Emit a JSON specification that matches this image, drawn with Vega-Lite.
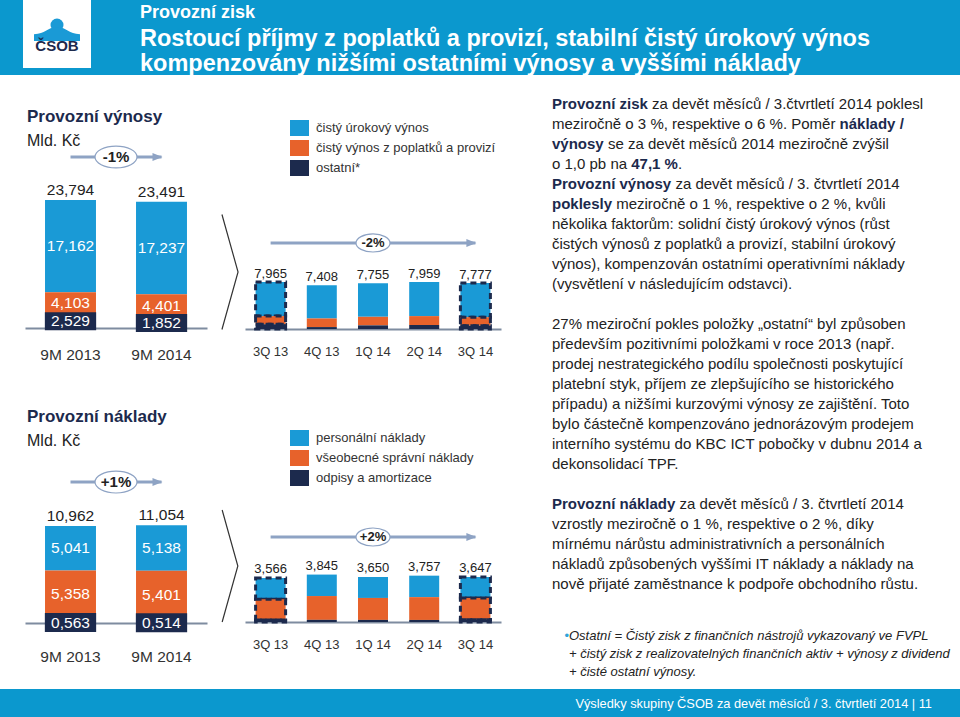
{
"$schema":"https://vega.github.io/schema/vega-lite/v6.json",
"padding":0,
"background":"white",
"bounds":"flush",
"spacing":0,
"columns":3,
"resolve":{"scale":{"color":"independent"},"legend":{"color":"independent"}},
"config":{"view":{"stroke":null},"font":"Liberation Sans","locale":{"number":{"decimal":",","thousands":" ","grouping":[3],"currency":["",""]}},"axis":{"grid":false}},
"datasets":{
"rev9m":[
{"p":"9M 2013","s":"čistý úrokový výnos","o":3,"v":17.162},
{"p":"9M 2013","s":"čistý výnos z poplatků a provizí","o":2,"v":4.103},
{"p":"9M 2013","s":"ostatní*","o":1,"v":2.529},
{"p":"9M 2014","s":"čistý úrokový výnos","o":3,"v":17.237},
{"p":"9M 2014","s":"čistý výnos z poplatků a provizí","o":2,"v":4.401},
{"p":"9M 2014","s":"ostatní*","o":1,"v":1.852}],
"rev9mTot":[{"p":"9M 2013","t":23.794},{"p":"9M 2014","t":23.491}],
"cost9m":[
{"p":"9M 2013","s":"personální náklady","o":3,"v":5.041},
{"p":"9M 2013","s":"všeobecné správní náklady","o":2,"v":5.358},
{"p":"9M 2013","s":"odpisy a amortizace","o":1,"v":0.563},
{"p":"9M 2014","s":"personální náklady","o":3,"v":5.138},
{"p":"9M 2014","s":"všeobecné správní náklady","o":2,"v":5.401},
{"p":"9M 2014","s":"odpisy a amortizace","o":1,"v":0.514}],
"cost9mTot":[{"p":"9M 2013","t":10.962},{"p":"9M 2014","t":11.054}],
"revQ":[
{"q":"3Q 13","s":"čistý úrokový výnos","o":3,"v":5.780},
{"q":"3Q 13","s":"čistý výnos z poplatků a provizí","o":2,"v":1.380},
{"q":"3Q 13","s":"ostatní*","o":1,"v":0.805},
{"q":"4Q 13","s":"čistý úrokový výnos","o":3,"v":5.620},
{"q":"4Q 13","s":"čistý výnos z poplatků a provizí","o":2,"v":1.460},
{"q":"4Q 13","s":"ostatní*","o":1,"v":0.328},
{"q":"1Q 14","s":"čistý úrokový výnos","o":3,"v":5.690},
{"q":"1Q 14","s":"čistý výnos z poplatků a provizí","o":2,"v":1.450},
{"q":"1Q 14","s":"ostatní*","o":1,"v":0.615},
{"q":"2Q 14","s":"čistý úrokový výnos","o":3,"v":5.770},
{"q":"2Q 14","s":"čistý výnos z poplatků a provizí","o":2,"v":1.510},
{"q":"2Q 14","s":"ostatní*","o":1,"v":0.679},
{"q":"3Q 14","s":"čistý úrokový výnos","o":3,"v":5.777},
{"q":"3Q 14","s":"čistý výnos z poplatků a provizí","o":2,"v":1.441},
{"q":"3Q 14","s":"ostatní*","o":1,"v":0.559}],
"revQTot":[{"q":"3Q 13","t":7.965},{"q":"4Q 13","t":7.408},{"q":"1Q 14","t":7.755},{"q":"2Q 14","t":7.959},{"q":"3Q 14","t":7.777}],
"costQ":[
{"q":"3Q 13","s":"personální náklady","o":3,"v":1.720},
{"q":"3Q 13","s":"všeobecné správní náklady","o":2,"v":1.680},
{"q":"3Q 13","s":"odpisy a amortizace","o":1,"v":0.166},
{"q":"4Q 13","s":"personální náklady","o":3,"v":1.740},
{"q":"4Q 13","s":"všeobecné správní náklady","o":2,"v":1.930},
{"q":"4Q 13","s":"odpisy a amortizace","o":1,"v":0.175},
{"q":"1Q 14","s":"personální náklady","o":3,"v":1.700},
{"q":"1Q 14","s":"všeobecné správní náklady","o":2,"v":1.780},
{"q":"1Q 14","s":"odpisy a amortizace","o":1,"v":0.170},
{"q":"2Q 14","s":"personální náklady","o":3,"v":1.740},
{"q":"2Q 14","s":"všeobecné správní náklady","o":2,"v":1.850},
{"q":"2Q 14","s":"odpisy a amortizace","o":1,"v":0.167},
{"q":"3Q 14","s":"personální náklady","o":3,"v":1.698},
{"q":"3Q 14","s":"všeobecné správní náklady","o":2,"v":1.772},
{"q":"3Q 14","s":"odpisy a amortizace","o":1,"v":0.177}],
"costQTot":[{"q":"3Q 13","t":3.566},{"q":"4Q 13","t":3.845},{"q":"1Q 14","t":3.650},{"q":"2Q 14","t":3.757},{"q":"3Q 14","t":3.647}],
"chg":[
{"c":"rev9m","from":"9M 2013","to":"9M 2014","lab":"-1%"},
{"c":"cost9m","from":"9M 2013","to":"9M 2014","lab":"+1%"},
{"c":"revQ","from":"3Q 13","to":"3Q 14","lab":"-2%"},
{"c":"costQ","from":"3Q 13","to":"3Q 14","lab":"+2%"}],
"txt":[
{"line":0,"k":"b","t":"Provozní zisk"},
{"line":0,"k":"c0","t":"za devět měsíců / 3.čtvrtletí 2014 poklesl"},
{"line":1,"k":"r","t":"meziročně o 3 %, respektive o 6 %. Poměr"},
{"line":1,"k":"c1","t":"náklady /"},
{"line":2,"k":"b","t":"výnosy"},
{"line":2,"k":"c2","t":"se za devět měsíců 2014 meziročně zvýšil"},
{"line":3,"k":"r","t":"o 1,0 pb na"},
{"line":3,"k":"c3","t":"47,1 %"},
{"line":3,"k":"c4","t":"."},
{"line":4,"k":"b","t":"Provozní výnosy"},
{"line":4,"k":"c5","t":"za devět měsíců / 3. čtvrtletí 2014"},
{"line":5,"k":"b","t":"poklesly"},
{"line":5,"k":"c6","t":"meziročně o 1 %, respektive o 2 %, kvůli"},
{"line":6,"k":"r","t":"několika faktorům: solidní čistý úrokový výnos (růst"},
{"line":7,"k":"r","t":"čistých výnosů z poplatků a provizí, stabilní úrokový"},
{"line":8,"k":"r","t":"výnos), kompenzován ostatními operativními náklady"},
{"line":9,"k":"r","t":"(vysvětlení v následujícím odstavci)."},
{"line":11,"k":"r","t":"27% meziroční pokles položky „ostatní“ byl způsoben"},
{"line":12,"k":"r","t":"především pozitivními položkami v roce 2013 (např."},
{"line":13,"k":"r","t":"prodej nestrategického podílu společnosti poskytující"},
{"line":14,"k":"r","t":"platební styk, příjem ze zlepšujícího se historického"},
{"line":15,"k":"r","t":"případu) a nižšími kurzovými výnosy ze zajištění. Toto"},
{"line":16,"k":"r","t":"bylo částečně kompenzováno jednorázovým prodejem"},
{"line":17,"k":"r","t":"interního systému do KBC ICT pobočky v dubnu 2014 a"},
{"line":18,"k":"r","t":"dekonsolidací TPF."},
{"line":20,"k":"b","t":"Provozní náklady"},
{"line":20,"k":"c7","t":"za devět měsíců / 3. čtvrtletí 2014"},
{"line":21,"k":"r","t":"vzrostly meziročně o 1 %, respektive o 2 %, díky"},
{"line":22,"k":"r","t":"mírnému nárůstu administrativních a personálních"},
{"line":23,"k":"r","t":"nákladů způsobených vyššími IT náklady a náklady na"},
{"line":24,"k":"r","t":"nově přijaté zaměstnance k podpoře obchodního růstu."}],
"fn":[
{"line":0,"k":"bul","t":"•"},
{"line":0,"k":"f","t":"Ostatní = Čistý zisk z finančních nástrojů vykazovaný ve FVPL"},
{"line":1,"k":"f","t":"+ čistý zisk z realizovatelných finančních aktiv + výnosy z dividend"},
{"line":2,"k":"f","t":"+ čisté ostatní výnosy."}]
},
"concat":[
{
"width":240,"height":75,
"view":{"fill":"#0B98CE","stroke":null},
"data":{"values":[{"logo":"ČSOB"}]},
"layer":[
{"mark":{"type":"point","shape":"square","size":4624,"filled":true,"fill":"white","strokeWidth":0,"opacity":1,"xOffset":-63,"yOffset":-3.5}},
{"mark":{"type":"point","shape":"circle","size":169,"filled":true,"fill":"#1A9AD6","strokeWidth":0,"opacity":1,"xOffset":-63,"yOffset":-12.5}},
{"mark":{"type":"point","shape":"M-1,0.05C-0.5,0.05,-0.45,-0.25,0,-0.25C0.45,-0.25,0.5,0.05,1,0.05L1,0.35L-1,0.35Z","size":2116,"filled":true,"fill":"#1A9AD6","strokeWidth":0,"opacity":1,"xOffset":-63,"yOffset":-4.5}},
{"mark":{"type":"text","fontSize":15,"fontWeight":"bold","color":"#1C2A4D","baseline":"middle","dx":-63,"dy":8},"encoding":{"text":{"field":"logo"}}}
]
},
{
"width":300,"height":75,
"view":{"fill":"#0B98CE","stroke":null},
"data":{"values":[{"t":""}]},
"mark":{"type":"text"},
"encoding":{"text":{"field":"t"}}
},
{
"width":420,"height":75,
"view":{"fill":"#0B98CE","stroke":null},
"data":{"values":[{"t":""}]},
"title":{"text":"Provozní zisk","subtitle":["Rostoucí příjmy z poplatků a provizí, stabilní čistý úrokový výnos","kompenzovány nižšími ostatními výnosy a vyššími náklady"],"anchor":"start","frame":"group","orient":"top","offset":-75,"dx":-400,"fontSize":18,"fontWeight":"bold","color":"white","subtitleFontSize":23.5,"subtitleFontWeight":"bold","subtitleColor":"white","subtitleLineHeight":24.5,"subtitlePadding":5,"font":"Liberation Sans","subtitleFont":"Liberation Sans"},
"mark":{"type":"text"},
"encoding":{"text":{"field":"t"}}
},
{
"width":240,"height":330,
"title":{"text":"Provozní výnosy","subtitle":"Mld. Kč","anchor":"start","frame":"group","orient":"top","offset":-75,"dx":27,"fontSize":17,"fontWeight":"bold","color":"#1C2A4D","subtitleFontSize":16,"subtitleColor":"#222222","subtitlePadding":7,"font":"Liberation Sans","subtitleFont":"Liberation Sans"},
"layer":[
{"data":{"name":"rev9m"},
"transform":[{"stack":"v","groupby":["p"],"sort":[{"field":"o","order":"ascending"}],"as":["y0","y1"]},{"calculate":"(datum.y0+datum.y1)/2","as":"mid"}],
"layer":[
{"mark":{"type":"bar"},
"encoding":{
"x":{"field":"p","type":"nominal","title":null,"scale":{"domain":["9M 2013","9M 2014"],"range":[25,207],"paddingInner":0.44,"paddingOuter":0.22},"axis":{"offset":-77,"labelAngle":0,"ticks":false,"domainColor":"#7E8CA0","domainWidth":2,"labelPadding":19,"labelFontSize":15.5,"labelColor":"#333333","labelFont":"Liberation Sans"}},
"y":{"field":"y1","type":"quantitative","scale":{"domain":[-14.315,47.03],"nice":false,"zero":false},"axis":null},
"y2":{"field":"y0"},
"color":{"field":"s","type":"nominal","scale":{"domain":["čistý úrokový výnos","čistý výnos z poplatků a provizí","ostatní*"],"range":["#1A9AD6","#E7622B","#1C2A4D"]},"legend":null}}},
{"transform":[{"filter":"datum.o !== 1"}],"mark":{"type":"text","color":"white","fontSize":15.5,"baseline":"middle"},"encoding":{"x":{"field":"p","type":"nominal","title":null},"y":{"field":"mid","type":"quantitative","axis":null},"text":{"field":"v","type":"quantitative","format":".3f"}}},
{"transform":[{"filter":"datum.o === 1"}],"mark":{"type":"point","shape":"M-2.85,-1H2.85V1H-2.85Z","size":324,"filled":true,"fill":"#1C2A4D","strokeWidth":0,"opacity":1},"encoding":{"x":{"field":"p","type":"nominal","title":null},"y":{"field":"mid","type":"quantitative","axis":null}}},
{"transform":[{"filter":"datum.o === 1"}],"mark":{"type":"text","color":"white","fontSize":15.5,"baseline":"middle"},"encoding":{"x":{"field":"p","type":"nominal","title":null},"y":{"field":"mid","type":"quantitative","axis":null},"text":{"field":"v","type":"quantitative","format":".3f"}}}
]},
{"data":{"name":"rev9mTot"},"mark":{"type":"text","fontSize":15.5,"color":"#222222","baseline":"alphabetic","dy":-5},"encoding":{"x":{"field":"p","type":"nominal","title":null},"y":{"field":"t","type":"quantitative","axis":null},"text":{"field":"t","type":"quantitative","format":".3f"}}},
{"data":{"name":"chg"},"transform":[{"filter":"datum.c === 'rev9m'"}],"layer":[
{"mark":{"type":"rule","color":"#8EA3C4","strokeWidth":3},"encoding":{"x":{"field":"from","type":"nominal","title":null},"x2":{"field":"to"},"y":{"datum":31.79,"type":"quantitative","axis":null}}},
{"mark":{"type":"point","shape":"M-1,-0.8L1,0L-1,0.8Z","size":100,"filled":true,"fill":"#8EA3C4","strokeWidth":0,"opacity":1,"xOffset":-4},"encoding":{"x":{"field":"to","type":"nominal","title":null},"y":{"datum":31.79,"type":"quantitative","axis":null}}},
{"mark":{"type":"point","shape":"M-1,0C-1,-0.286,-0.5523,-0.52,0,-0.52C0.5523,-0.52,1,-0.286,1,0C1,0.286,0.5523,0.52,0,0.52C-0.5523,0.52,-1,0.286,-1,0Z","size":1764,"filled":true,"fill":"white","stroke":"#8EA3C4","strokeWidth":1.2,"opacity":1,"xOffset":45.5},"encoding":{"x":{"field":"from","type":"nominal","title":null},"y":{"datum":31.79,"type":"quantitative","axis":null}}},
{"mark":{"type":"text","fontSize":15,"fontWeight":"bold","color":"#222222","baseline":"middle","dx":45.5},"encoding":{"x":{"field":"from","type":"nominal","title":null},"y":{"datum":31.79,"type":"quantitative","axis":null},"text":{"field":"lab"}}},
{"mark":{"type":"point","shape":"M-0.14,-1L0.14,0L-0.14,1","size":13225,"filled":false,"stroke":"#333333","strokeWidth":1.2,"opacity":1,"xOffset":68.5},"encoding":{"x":{"field":"to","type":"nominal","title":null},"y":{"datum":10.41,"type":"quantitative","axis":null}}}
]}
]
},
{
"width":300,"height":330,
"layer":[
{"data":{"name":"revQ"},
"transform":[{"stack":"v","groupby":["q"],"sort":[{"field":"o","order":"ascending"}],"as":["y0","y1"]}],
"mark":{"type":"bar","strokeDash":[6,4],"strokeWidth":3},
"encoding":{
"x":{"field":"q","type":"nominal","title":null,"scale":{"domain":["3Q 13","4Q 13","1Q 14","2Q 14","3Q 14"],"range":[5,261],"paddingInner":0.414,"paddingOuter":0.207},"axis":{"offset":-76,"labelAngle":0,"ticks":false,"domainColor":"#7E8CA0","domainWidth":2,"labelPadding":16.5,"labelFontSize":13,"labelColor":"#333333","labelFont":"Liberation Sans"}},
"y":{"field":"y1","type":"quantitative","scale":{"domain":[-12.88,43.05],"nice":false,"zero":false},"axis":null},
"y2":{"field":"y0"},
"color":{"field":"s","type":"nominal","scale":{"domain":["čistý úrokový výnos","čistý výnos z poplatků a provizí","ostatní*"],"range":["#1A9AD6","#E7622B","#1C2A4D"]},"legend":{"orient":"none","legendX":50,"legendY":43.5,"title":null,"symbolType":"M-1,-0.84H1V0.84H-1Z","symbolSize":361,"symbolStrokeWidth":0,"symbolOpacity":1,"labelFontSize":13,"labelColor":"#333333","labelFont":"Liberation Sans","labelOffset":7,"labelLimit":300,"rowPadding":2,"padding":0}},
"stroke":{"condition":{"test":"datum.q === '3Q 13' || datum.q === '3Q 14'","value":"#1C2A4D"},"value":"transparent"}}},
{"data":{"name":"revQTot"},"mark":{"type":"text","fontSize":13,"color":"#222222","baseline":"alphabetic","dy":-4},"encoding":{"x":{"field":"q","type":"nominal","title":null},"y":{"field":"t","type":"quantitative","axis":null},"text":{"field":"t","type":"quantitative","format":".3f"}}},
{"data":{"name":"chg"},"transform":[{"filter":"datum.c === 'revQ'"}],"layer":[
{"mark":{"type":"rule","color":"#8EA3C4","strokeWidth":3},"encoding":{"x":{"field":"from","type":"nominal","title":null},"x2":{"field":"to"},"y":{"datum":14.58,"type":"quantitative","axis":null}}},
{"mark":{"type":"point","shape":"M-1,-0.8L1,0L-1,0.8Z","size":100,"filled":true,"fill":"#8EA3C4","strokeWidth":0,"opacity":1,"xOffset":-4},"encoding":{"x":{"field":"to","type":"nominal","title":null},"y":{"datum":14.58,"type":"quantitative","axis":null}}},
{"mark":{"type":"point","shape":"M-1,0C-1,-0.294,-0.5523,-0.53,0,-0.53C0.5523,-0.53,1,-0.294,1,0C1,0.294,0.5523,0.53,0,0.53C-0.5523,0.53,-1,0.294,-1,0Z","size":1156,"filled":true,"fill":"white","stroke":"#8EA3C4","strokeWidth":1.2,"opacity":1,"xOffset":102.4},"encoding":{"x":{"field":"from","type":"nominal","title":null},"y":{"datum":14.58,"type":"quantitative","axis":null}}},
{"mark":{"type":"text","fontSize":13,"fontWeight":"bold","color":"#222222","baseline":"middle","dx":102.4},"encoding":{"x":{"field":"from","type":"nominal","title":null},"y":{"datum":14.58,"type":"quantitative","axis":null},"text":{"field":"lab"}}}
]}
]
},
{
"width":420,"height":330,
"data":{"name":"txt"},
"encoding":{"x":{"datum":0,"type":"quantitative","scale":{"domain":[0,1]},"axis":null}},
"layer":[
{"transform":[{"filter":"datum.k === 'r'"}],"mark":{"type":"text","align":"left","baseline":"middle","fontSize":15,"color":"#222222","dx":12},"encoding":{"y":{"field":"line","type":"quantitative","scale":{"domain":[-1.45,15.05],"reverse":true,"nice":false,"zero":false},"axis":null},"text":{"field":"t"}}},
{"transform":[{"filter":"datum.k === 'b'"}],"mark":{"type":"text","align":"left","baseline":"middle","fontSize":15,"fontWeight":"bold","color":"#1C2A4D","dx":12},"encoding":{"y":{"field":"line","type":"quantitative","axis":null},"text":{"field":"t"}}},
{"transform":[{"filter":"datum.k === 'c0'"}],"mark":{"type":"text","align":"left","baseline":"middle","fontSize":15,"color":"#222222","dx":112.1},"encoding":{"y":{"field":"line","type":"quantitative","axis":null},"text":{"field":"t"}}},
{"transform":[{"filter":"datum.k === 'c1'"}],"mark":{"type":"text","align":"left","baseline":"middle","fontSize":15,"fontWeight":"bold","color":"#1C2A4D","dx":299.6},"encoding":{"y":{"field":"line","type":"quantitative","axis":null},"text":{"field":"t"}}},
{"transform":[{"filter":"datum.k === 'c2'"}],"mark":{"type":"text","align":"left","baseline":"middle","fontSize":15,"color":"#222222","dx":67.9},"encoding":{"y":{"field":"line","type":"quantitative","axis":null},"text":{"field":"t"}}},
{"transform":[{"filter":"datum.k === 'c3'"}],"mark":{"type":"text","align":"left","baseline":"middle","fontSize":15,"fontWeight":"bold","color":"#1C2A4D","dx":91.2},"encoding":{"y":{"field":"line","type":"quantitative","axis":null},"text":{"field":"t"}}},
{"transform":[{"filter":"datum.k === 'c4'"}],"mark":{"type":"text","align":"left","baseline":"middle","fontSize":15,"color":"#222222","dx":137.9},"encoding":{"y":{"field":"line","type":"quantitative","axis":null},"text":{"field":"t"}}},
{"transform":[{"filter":"datum.k === 'c5'"}],"mark":{"type":"text","align":"left","baseline":"middle","fontSize":15,"color":"#222222","dx":135.4},"encoding":{"y":{"field":"line","type":"quantitative","axis":null},"text":{"field":"t"}}},
{"transform":[{"filter":"datum.k === 'c6'"}],"mark":{"type":"text","align":"left","baseline":"middle","fontSize":15,"color":"#222222","dx":76.2},"encoding":{"y":{"field":"line","type":"quantitative","axis":null},"text":{"field":"t"}}},
{"transform":[{"filter":"datum.k === 'c7'"}],"mark":{"type":"text","align":"left","baseline":"middle","fontSize":15,"color":"#222222","dx":139.6},"encoding":{"y":{"field":"line","type":"quantitative","axis":null},"text":{"field":"t"}}}
]
},
{
"width":240,"height":284,
"title":{"text":"Provozní náklady","subtitle":"Mld. Kč","anchor":"start","frame":"group","orient":"top","offset":-45,"dx":27,"fontSize":17,"fontWeight":"bold","color":"#1C2A4D","subtitleFontSize":16,"subtitleColor":"#222222","subtitlePadding":7,"font":"Liberation Sans","subtitleFont":"Liberation Sans"},
"layer":[
{"data":{"name":"cost9m"},
"transform":[{"stack":"v","groupby":["p"],"sort":[{"field":"o","order":"ascending"}],"as":["y0","y1"]},{"calculate":"(datum.y0+datum.y1)/2","as":"mid"}],
"layer":[
{"mark":{"type":"bar"},
"encoding":{
"x":{"field":"p","type":"nominal","title":null,"scale":{"domain":["9M 2013","9M 2014"],"range":[25,207],"paddingInner":0.44,"paddingOuter":0.22},"axis":{"offset":-66,"labelAngle":0,"ticks":false,"domainColor":"#7E8CA0","domainWidth":2,"labelPadding":26,"labelFontSize":15.5,"labelColor":"#333333","labelFont":"Liberation Sans"}},
"y":{"field":"y1","type":"quantitative","scale":{"domain":[-7.46,24.64],"nice":false,"zero":false},"axis":null},
"y2":{"field":"y0"},
"color":{"field":"s","type":"nominal","scale":{"domain":["personální náklady","všeobecné správní náklady","odpisy a amortizace"],"range":["#1A9AD6","#E7622B","#1C2A4D"]},"legend":null}}},
{"transform":[{"filter":"datum.o !== 1"}],"mark":{"type":"text","color":"white","fontSize":15.5,"baseline":"middle"},"encoding":{"x":{"field":"p","type":"nominal","title":null},"y":{"field":"mid","type":"quantitative","axis":null},"text":{"field":"v","type":"quantitative","format":".3f"}}},
{"transform":[{"filter":"datum.o === 1"}],"mark":{"type":"point","shape":"M-2.7,-1H2.7V1H-2.7Z","size":361,"filled":true,"fill":"#1C2A4D","strokeWidth":0,"opacity":1,"yOffset":2},"encoding":{"x":{"field":"p","type":"nominal","title":null},"y":{"field":"mid","type":"quantitative","axis":null}}},
{"transform":[{"filter":"datum.o === 1"}],"mark":{"type":"text","color":"white","fontSize":15.5,"baseline":"middle","dy":2},"encoding":{"x":{"field":"p","type":"nominal","title":null},"y":{"field":"mid","type":"quantitative","axis":null},"text":{"field":"v","type":"quantitative","format":".3f"}}}
]},
{"data":{"name":"cost9mTot"},"mark":{"type":"text","fontSize":15.5,"color":"#222222","baseline":"alphabetic","dy":-5},"encoding":{"x":{"field":"p","type":"nominal","title":null},"y":{"field":"t","type":"quantitative","axis":null},"text":{"field":"t","type":"quantitative","format":".3f"}}},
{"data":{"name":"chg"},"transform":[{"filter":"datum.c === 'cost9m'"}],"layer":[
{"mark":{"type":"rule","color":"#8EA3C4","strokeWidth":3},"encoding":{"x":{"field":"from","type":"nominal","title":null},"x2":{"field":"to"},"y":{"datum":15.93,"type":"quantitative","axis":null}}},
{"mark":{"type":"point","shape":"M-1,-0.8L1,0L-1,0.8Z","size":100,"filled":true,"fill":"#8EA3C4","strokeWidth":0,"opacity":1,"xOffset":-4},"encoding":{"x":{"field":"to","type":"nominal","title":null},"y":{"datum":15.93,"type":"quantitative","axis":null}}},
{"mark":{"type":"point","shape":"M-1,0C-1,-0.286,-0.5523,-0.52,0,-0.52C0.5523,-0.52,1,-0.286,1,0C1,0.286,0.5523,0.52,0,0.52C-0.5523,0.52,-1,0.286,-1,0Z","size":1764,"filled":true,"fill":"white","stroke":"#8EA3C4","strokeWidth":1.2,"opacity":1,"xOffset":45.5},"encoding":{"x":{"field":"from","type":"nominal","title":null},"y":{"datum":15.93,"type":"quantitative","axis":null}}},
{"mark":{"type":"text","fontSize":15,"fontWeight":"bold","color":"#222222","baseline":"middle","dx":45.5},"encoding":{"x":{"field":"from","type":"nominal","title":null},"y":{"datum":15.93,"type":"quantitative","axis":null},"text":{"field":"lab"}}},
{"mark":{"type":"point","shape":"M-0.14,-1L0.14,0L-0.14,1","size":12544,"filled":false,"stroke":"#333333","strokeWidth":1.2,"opacity":1,"xOffset":68.5},"encoding":{"x":{"field":"to","type":"nominal","title":null},"y":{"datum":6.44,"type":"quantitative","axis":null}}}
]}
]
},
{
"width":300,"height":284,
"layer":[
{"data":{"name":"costQ"},
"transform":[{"stack":"v","groupby":["q"],"sort":[{"field":"o","order":"ascending"}],"as":["y0","y1"]}],
"mark":{"type":"bar","strokeDash":[6,4],"strokeWidth":3},
"encoding":{
"x":{"field":"q","type":"nominal","title":null,"scale":{"domain":["3Q 13","4Q 13","1Q 14","2Q 14","3Q 14"],"range":[5,261],"paddingInner":0.414,"paddingOuter":0.207},"axis":{"offset":-67,"labelAngle":0,"ticks":false,"domainColor":"#7E8CA0","domainWidth":2,"labelPadding":16.5,"labelFontSize":13,"labelColor":"#333333","labelFont":"Liberation Sans"}},
"y":{"field":"y1","type":"quantitative","scale":{"domain":[-5.43,17.59],"nice":false,"zero":false},"axis":null},
"y2":{"field":"y0"},
"color":{"field":"s","type":"nominal","scale":{"domain":["personální náklady","všeobecné správní náklady","odpisy a amortizace"],"range":["#1A9AD6","#E7622B","#1C2A4D"]},"legend":{"orient":"none","legendX":50,"legendY":23.5,"title":null,"symbolType":"M-1,-0.84H1V0.84H-1Z","symbolSize":361,"symbolStrokeWidth":0,"symbolOpacity":1,"labelFontSize":13,"labelColor":"#333333","labelFont":"Liberation Sans","labelOffset":7,"labelLimit":300,"rowPadding":2,"padding":0}},
"stroke":{"condition":{"test":"datum.q === '3Q 13' || datum.q === '3Q 14'","value":"#1C2A4D"},"value":"transparent"}}},
{"data":{"name":"costQTot"},"mark":{"type":"text","fontSize":13,"color":"#222222","baseline":"alphabetic","dy":-5},"encoding":{"x":{"field":"q","type":"nominal","title":null},"y":{"field":"t","type":"quantitative","axis":null},"text":{"field":"t","type":"quantitative","format":".3f"}}},
{"data":{"name":"chg"},"transform":[{"filter":"datum.c === 'costQ'"}],"layer":[
{"mark":{"type":"rule","color":"#8EA3C4","strokeWidth":3},"encoding":{"x":{"field":"from","type":"nominal","title":null},"x2":{"field":"to"},"y":{"datum":6.89,"type":"quantitative","axis":null}}},
{"mark":{"type":"point","shape":"M-1,-0.8L1,0L-1,0.8Z","size":100,"filled":true,"fill":"#8EA3C4","strokeWidth":0,"opacity":1,"xOffset":-4},"encoding":{"x":{"field":"to","type":"nominal","title":null},"y":{"datum":6.89,"type":"quantitative","axis":null}}},
{"mark":{"type":"point","shape":"M-1,0C-1,-0.294,-0.5523,-0.53,0,-0.53C0.5523,-0.53,1,-0.294,1,0C1,0.294,0.5523,0.53,0,0.53C-0.5523,0.53,-1,0.294,-1,0Z","size":1156,"filled":true,"fill":"white","stroke":"#8EA3C4","strokeWidth":1.2,"opacity":1,"xOffset":102.4},"encoding":{"x":{"field":"from","type":"nominal","title":null},"y":{"datum":6.89,"type":"quantitative","axis":null}}},
{"mark":{"type":"text","fontSize":13,"fontWeight":"bold","color":"#222222","baseline":"middle","dx":102.4},"encoding":{"x":{"field":"from","type":"nominal","title":null},"y":{"datum":6.89,"type":"quantitative","axis":null},"text":{"field":"lab"}}}
]}
]
},
{
"width":420,"height":284,
"data":{"name":"fn"},
"encoding":{"x":{"datum":0,"type":"quantitative","scale":{"domain":[0,1]},"axis":null},"y":{"field":"line","type":"quantitative","scale":{"domain":[-12.833,2.944],"reverse":true,"nice":false,"zero":false},"axis":null}},
"layer":[
{"transform":[{"filter":"datum.k === 'bul'"}],"mark":{"type":"text","align":"left","baseline":"middle","fontSize":13,"color":"#2EA3DA","dx":24.5},"encoding":{"text":{"field":"t"}}},
{"transform":[{"filter":"datum.k === 'f'"}],"mark":{"type":"text","align":"left","baseline":"middle","fontSize":13,"fontStyle":"italic","color":"#222222","dx":29},"encoding":{"text":{"field":"t"}}}
]
},
{
"width":240,"height":28,
"view":{"fill":"#0B98CE","stroke":null},
"data":{"values":[{"t":""}]},
"mark":{"type":"text"},
"encoding":{"text":{"field":"t"}}
},
{
"width":300,"height":28,
"view":{"fill":"#0B98CE","stroke":null},
"data":{"values":[{"t":""}]},
"mark":{"type":"text"},
"encoding":{"text":{"field":"t"}}
},
{
"width":420,"height":28,
"view":{"fill":"#0B98CE","stroke":null},
"data":{"values":[{"t":"Výsledky skupiny ČSOB za devět měsíců / 3. čtvrtletí 2014 | 11"}]},
"mark":{"type":"text","align":"right","baseline":"middle","dx":182,"dy":1,"fontSize":12.8,"color":"white"},
"encoding":{"text":{"field":"t"}}
}
]
}
